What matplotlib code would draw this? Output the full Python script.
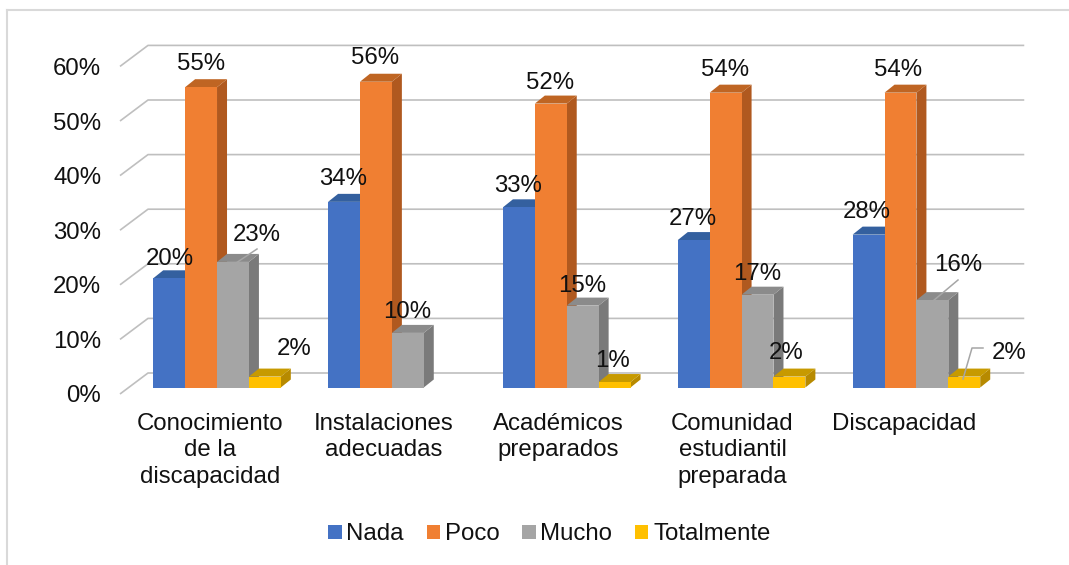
import numpy as np
import matplotlib
matplotlib.use("Agg")
import matplotlib.pyplot as plt
from matplotlib.lines import Line2D
from matplotlib.patches import Patch
from matplotlib.transforms import ScaledTranslation

plt.rcParams['font.family'] = ['Liberation Sans', 'DejaVu Sans']

categories = ["Conocimiento\nde la\ndiscapacidad", "Instalaciones\nadecuadas",
              "Académicos\npreparados", "Comunidad\nestudiantil\npreparada", "Discapacidad"]
nada = [20, 34, 33, 27, 28]
poco = [55, 56, 52, 54, 54]
mucho = [23, 10, 15, 17, 16]
totalmente = [2, np.nan, 1, 2, 2]
series_names = ["Nada", "Poco", "Mucho", "Totalmente"]
y_ticks = [0, 10, 20, 30, 40, 50, 60]

front_cols = ["#4472C4", "#F07F32", "#A5A5A5", "#FFC000"]
side_cols = ["#2F5597", "#B0591F", "#7A7A7A", "#B78A00"]
top_cols = ["#34609F", "#BF6523", "#8B8B8B", "#C79A00"]
TXT = "#111111"
GRID = "#BFBFBF"
FS = 17.3

W, H = 1069, 565
fig = plt.figure(figsize=(W / 100, H / 100), dpi=100, facecolor="white")

PX_X = 174.85     # pixels per category
PX_Y = 5.46       # pixels per percent
ax = fig.add_axes([120 / W, (H - 394) / H, 5 * PX_X / W, 60 * PX_Y / H])
ax.set_xlim(-0.5, 4.5)
ax.set_ylim(0, 60)
for s in ax.spines.values():
    s.set_visible(False)
ax.patch.set_alpha(0)

def ux(p):
    return p / PX_X

def uy(p):
    return p / PX_Y

# walls: slanted floor/side lines and back gridlines
wall_dx, wall_dy = ux(28), uy(21)
grid_end = 4.5 + ux(30)
for v in y_ticks:
    ax.plot([-0.5, -0.5 + wall_dx, grid_end], [v, v + wall_dy, v + wall_dy],
            color=GRID, lw=1.2, clip_on=False, zorder=1, solid_capstyle="butt")

# bars
base = uy(6.5)
bar_w = ux(31.9)
group_left = ux(-54.2)
dep_x, dep_y = ux(10), uy(8)
series = [nada, poco, mucho, totalmente]

# label offsets in pixels from (bar centre, bar top) for each series / category
lab_dx = [[1, -1, -1, -1, -2],
          [0, -1, -1, -1, -2],
          [24, -1, 0, 0, 26],
          [29, 0, -2, -3, 45]]
lab_dy = [[22, 26, 24, 24, 26],
          [26, 27, 24, 26, 26],
          [30, 24, 23, 24, 38],
          [31, 0, 24, 27, 27]]

z = 3
for c in range(len(categories)):
    for s, vals in enumerate(series):
        v = vals[c]
        if np.isnan(v):
            continue
        x0 = c + group_left + s * bar_w
        x1 = x0 + bar_w
        y0, y1 = base, base + v
        ax.fill([x1, x1 + dep_x, x1 + dep_x, x1],
                [y0, y0 + dep_y, y1 + dep_y, y1],
                color=side_cols[s], lw=0, clip_on=False, zorder=z)
        ax.fill([x0, x0 + dep_x, x1 + dep_x, x1],
                [y1, y1 + dep_y, y1 + dep_y, y1],
                color=top_cols[s], lw=0, clip_on=False, zorder=z)
        ax.bar(x0, v, bar_w, bottom=base, align="edge", color=front_cols[s],
               lw=0, clip_on=False, zorder=z + 0.5)
        z += 1

# leader lines (pixel coordinates of the reference, via figure pixels)
def px_line(xs, ys):
    fig.add_artist(Line2D([x / W for x in xs], [1 - y / H for y in ys],
                          color="#A6A6A6", lw=1.1, zorder=50))

px_line([233, 257], [265, 249])
px_line([933, 958], [301, 280])
px_line([963, 972, 983], [379, 348, 348])

# data labels
for c in range(len(categories)):
    for s, vals in enumerate(series):
        v = vals[c]
        if np.isnan(v):
            continue
        xc = c + group_left + (s + 0.5) * bar_w
        ax.annotate(f"{int(v)}%", xy=(xc, base + v),
                    xytext=(lab_dx[s][c], lab_dy[s][c] - 3), textcoords="offset pixels",
                    ha="center", va="center", fontsize=FS, color=TXT,
                    annotation_clip=False, zorder=1000)

# axes labels
ax.set_yticks(y_ticks)
ax.set_yticklabels([f"{v}%" for v in y_ticks], fontsize=FS, color=TXT)
ax.set_xticks(range(len(categories)))
ax.set_xticklabels(categories, fontsize=FS, color=TXT, linespacing=1.27)
ax.tick_params(axis="y", length=0, pad=13.5)
ax.tick_params(axis="x", length=0, pad=13.5)
xlabel_nudge_px = [3, 1.5, 1.5, 0.5, -2.5]
for lab, n in zip(ax.get_xticklabels(), xlabel_nudge_px):
    lab.set_transform(lab.get_transform() + ScaledTranslation(n / 100, 0, fig.dpi_scale_trans))

# legend
handles = [Patch(facecolor=col, edgecolor="none", label=n)
           for col, n in zip(front_cols, series_names)]
fig.legend(handles=handles, loc="center", bbox_to_anchor=(549.5 / W, 1 - 534.5 / H),
           ncol=4, frameon=False, prop={"size": FS}, labelcolor=TXT,
           handlelength=0.55, handleheight=0.55, handletextpad=0.2,
           columnspacing=0.95, borderpad=0, borderaxespad=0)

# chart frame
fig.add_artist(Line2D([7 / W, 1], [1 - 10 / H, 1 - 10 / H], color="#D9D9D9", lw=1.5))
fig.add_artist(Line2D([7 / W, 7 / W], [1 - 10 / H, 0], color="#D9D9D9", lw=1.5))

fig.savefig("out.png", dpi=100, facecolor="white")
